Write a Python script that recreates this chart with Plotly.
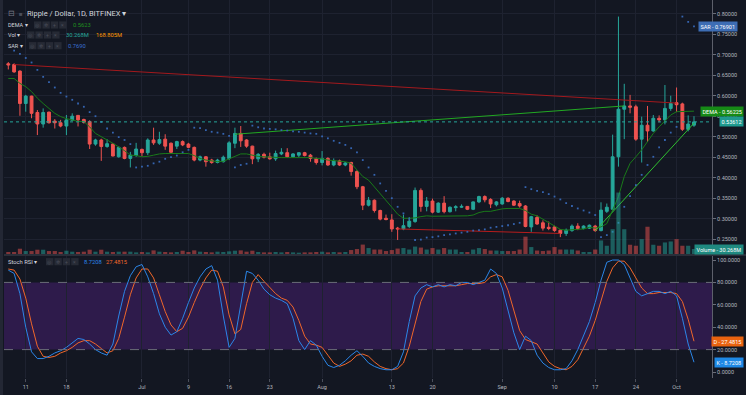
import pandas as pd
import plotly.graph_objects as go

# ---------------- DATA ----------------
START_DATE = "2018-06-08"

opens = [0.678, 0.676, 0.660, 0.581, 0.599, 0.559, 0.531, 0.560, 0.538, 0.534,
         0.526, 0.540, 0.552, 0.542, 0.537, 0.482, 0.492, 0.476, 0.482, 0.451,
         0.474, 0.447, 0.454, 0.469, 0.461, 0.492, 0.484, 0.494, 0.484, 0.477,
         0.488, 0.482, 0.474, 0.443, 0.451, 0.443, 0.437, 0.439, 0.447, 0.484,
         0.508, 0.492, 0.477, 0.446, 0.457, 0.451, 0.446, 0.458, 0.461, 0.451,
         0.455, 0.461, 0.455, 0.447, 0.437, 0.447, 0.431, 0.441, 0.431, 0.437,
         0.415, 0.378, 0.333, 0.345, 0.320, 0.301, 0.297, 0.277, 0.275, 0.281,
         0.293, 0.369, 0.330, 0.343, 0.316, 0.338, 0.317, 0.327, 0.328, 0.330,
         0.323, 0.341, 0.354, 0.347, 0.334, 0.336, 0.350, 0.343, 0.337, 0.331,
         0.280, 0.303, 0.290, 0.279, 0.280, 0.272, 0.264, 0.271, 0.282, 0.276,
         0.277, 0.282, 0.271, 0.318, 0.323, 0.451, 0.567, 0.575, 0.573, 0.494,
         0.528, 0.514, 0.545, 0.541, 0.569, 0.583, 0.580, 0.518, 0.528]
highs = [0.682, 0.679, 0.662, 0.602, 0.600, 0.565, 0.569, 0.561, 0.543, 0.541,
         0.553, 0.557, 0.553, 0.544, 0.540, 0.495, 0.495, 0.494, 0.484, 0.476,
         0.476, 0.463, 0.485, 0.471, 0.496, 0.522, 0.512, 0.506, 0.486, 0.490,
         0.491, 0.485, 0.476, 0.454, 0.453, 0.446, 0.446, 0.454, 0.489, 0.522,
         0.526, 0.494, 0.478, 0.460, 0.461, 0.461, 0.466, 0.472, 0.472, 0.460,
         0.462, 0.463, 0.458, 0.449, 0.465, 0.450, 0.447, 0.444, 0.438, 0.439,
         0.418, 0.380, 0.353, 0.347, 0.322, 0.310, 0.311, 0.280, 0.310, 0.304,
         0.376, 0.374, 0.353, 0.349, 0.340, 0.355, 0.330, 0.333, 0.335, 0.331,
         0.342, 0.356, 0.357, 0.350, 0.343, 0.353, 0.352, 0.345, 0.344, 0.333,
         0.307, 0.308, 0.296, 0.293, 0.283, 0.274, 0.276, 0.286, 0.289, 0.284,
         0.286, 0.285, 0.340, 0.337, 0.505, 0.793, 0.629, 0.602, 0.578, 0.549,
         0.575, 0.553, 0.552, 0.626, 0.600, 0.620, 0.583, 0.552, 0.550]
lows = [0.664, 0.656, 0.551, 0.561, 0.545, 0.504, 0.522, 0.532, 0.520, 0.523,
        0.504, 0.538, 0.525, 0.532, 0.470, 0.478, 0.441, 0.473, 0.452, 0.449,
        0.445, 0.425, 0.451, 0.452, 0.455, 0.480, 0.480, 0.468, 0.458, 0.470,
        0.477, 0.472, 0.440, 0.440, 0.427, 0.434, 0.435, 0.437, 0.443, 0.472,
        0.475, 0.473, 0.433, 0.438, 0.447, 0.444, 0.441, 0.455, 0.449, 0.448,
        0.450, 0.452, 0.439, 0.432, 0.430, 0.429, 0.428, 0.429, 0.428, 0.405,
        0.372, 0.321, 0.330, 0.315, 0.296, 0.296, 0.268, 0.248, 0.272, 0.277,
        0.290, 0.317, 0.318, 0.313, 0.314, 0.313, 0.315, 0.318, 0.326, 0.321,
        0.321, 0.338, 0.340, 0.326, 0.330, 0.334, 0.340, 0.331, 0.327, 0.279,
        0.268, 0.285, 0.271, 0.272, 0.268, 0.255, 0.258, 0.268, 0.272, 0.274,
        0.275, 0.268, 0.269, 0.314, 0.317, 0.427, 0.494, 0.557, 0.490, 0.437,
        0.487, 0.512, 0.535, 0.530, 0.563, 0.560, 0.514, 0.513, 0.524]
closes = [0.675, 0.658, 0.581, 0.599, 0.557, 0.531, 0.559, 0.534, 0.534, 0.526,
          0.541, 0.550, 0.541, 0.535, 0.482, 0.492, 0.476, 0.483, 0.453, 0.474,
          0.447, 0.455, 0.470, 0.461, 0.492, 0.485, 0.493, 0.477, 0.462, 0.488,
          0.480, 0.474, 0.443, 0.451, 0.439, 0.437, 0.443, 0.450, 0.485, 0.508,
          0.490, 0.477, 0.446, 0.457, 0.450, 0.446, 0.459, 0.462, 0.451, 0.458,
          0.461, 0.454, 0.447, 0.437, 0.447, 0.431, 0.441, 0.431, 0.436, 0.415,
          0.378, 0.333, 0.345, 0.320, 0.299, 0.298, 0.275, 0.275, 0.283, 0.294,
          0.369, 0.330, 0.343, 0.316, 0.338, 0.317, 0.328, 0.329, 0.330, 0.323,
          0.341, 0.354, 0.346, 0.336, 0.341, 0.350, 0.342, 0.333, 0.331, 0.281,
          0.305, 0.287, 0.277, 0.276, 0.271, 0.264, 0.272, 0.282, 0.276, 0.282,
          0.284, 0.271, 0.321, 0.328, 0.451, 0.567, 0.575, 0.572, 0.494, 0.528,
          0.514, 0.545, 0.541, 0.569, 0.581, 0.578, 0.518, 0.531, 0.53612]
volume_m = [12, 12, 32, 18, 18, 26, 26, 18, 18, 12,
            20, 14, 12, 14, 26, 14, 26, 14, 12, 14,
            14, 14, 10, 12, 10, 22, 14, 12, 10, 12,
            20, 12, 22, 14, 12, 10, 14, 12, 16, 20,
            22, 14, 20, 12, 10, 10, 12, 10, 12, 10,
            8, 10, 10, 12, 14, 10, 12, 10, 12, 24,
            30, 57, 36, 27, 27, 18, 24, 33, 36, 27,
            45, 39, 27, 36, 27, 36, 27, 27, 12, 12,
            27, 36, 30, 21, 21, 18, 18, 18, 27, 105,
            42, 21, 18, 21, 42, 27, 27, 27, 21, 12,
            12, 27, 82, 50, 150, 372, 150, 56, 50, 90,
            165, 56, 50, 70, 76, 90, 50, 50, 30.268]
volume_ma_m = 168.805
dema = [0.642, 0.642, 0.630, 0.622, 0.610, 0.594, 0.581, 0.569, 0.557, 0.549,
        0.544, 0.541, 0.537, 0.537, 0.524, 0.508, 0.499, 0.492, 0.484, 0.476,
        0.466, 0.455, 0.454, 0.451, 0.452, 0.455, 0.458, 0.459, 0.459, 0.459,
        0.459, 0.459, 0.454, 0.447, 0.443, 0.441, 0.439, 0.440, 0.446, 0.453,
        0.458, 0.458, 0.455, 0.452, 0.451, 0.450, 0.449, 0.449, 0.449, 0.449,
        0.449, 0.449, 0.449, 0.447, 0.446, 0.443, 0.442, 0.440, 0.439, 0.435,
        0.419, 0.403, 0.394, 0.378, 0.362, 0.346, 0.328, 0.311, 0.301, 0.301,
        0.302, 0.305, 0.307, 0.306, 0.306, 0.306, 0.306, 0.306, 0.306, 0.307,
        0.309, 0.315, 0.318, 0.318, 0.321, 0.324, 0.325, 0.325, 0.325, 0.320,
        0.311, 0.307, 0.299, 0.290, 0.282, 0.274, 0.272, 0.273, 0.274, 0.275,
        0.279, 0.277, 0.280, 0.288, 0.321, 0.354, 0.403, 0.435, 0.451, 0.468,
        0.488, 0.508, 0.524, 0.538, 0.553, 0.561, 0.561, 0.562, 0.56225]
sar = [None, 0.710, 0.702, 0.692, 0.681, 0.663, 0.646, 0.633, 0.620, 0.607,
       0.598, 0.590, 0.581, 0.573, 0.560, 0.550, 0.536, 0.520, 0.510, 0.499,
       0.492, 0.482, 0.425, 0.427, 0.429, 0.435, 0.439, 0.446, 0.450, 0.454,
       0.462, 0.468, 0.522, 0.521, 0.516, 0.512, 0.510, 0.507, 0.502, 0.425,
       0.431, 0.434, 0.527, 0.523, 0.520, 0.519, 0.518, 0.516, 0.515, 0.513,
       0.512, 0.510, 0.508, 0.507, 0.501, 0.496, 0.490, 0.485, 0.480, 0.472,
       0.462, 0.443, 0.425, 0.407, 0.386, 0.368, 0.350, 0.329, 0.313, 0.300,
       0.248, 0.249, 0.254, 0.255, 0.257, 0.260, 0.262, 0.264, 0.266, 0.268,
       0.271, 0.272, 0.274, 0.278, 0.280, 0.282, 0.284, 0.287, 0.290, 0.377,
       0.372, 0.368, 0.365, 0.360, 0.354, 0.347, 0.338, 0.331, 0.325, 0.320,
       0.315, 0.309, 0.255, 0.260, 0.268, 0.290, 0.329, 0.355, 0.382, 0.407,
       0.431, 0.451, 0.474, 0.492, 0.510, 0.524, 0.793, 0.780, 0.76901]
stoch_k = [91, 88, 70, 40, 18, 12, 12, 14, 17, 19,
           22, 26, 30, 29, 25, 20, 17, 15, 25, 50,
           72, 86, 94, 96, 85, 70, 52, 40, 33, 36,
           48, 62, 75, 85, 92, 95, 82, 50, 22, 30,
           62, 90, 88, 82, 74, 69, 66, 64, 61, 48,
           28, 20, 28, 24, 14, 6, 4, 6, 10, 15,
           19, 14, 8, 5, 3, 2, 2, 5, 18, 45,
           68, 75, 78, 76, 78, 76, 78, 77, 80, 80,
           78, 80, 82, 92, 88, 75, 55, 35, 20, 32,
           28, 15, 8, 4, 2, 2, 3, 10, 20, 32,
           45, 62, 82, 98, 100, 100, 96, 84, 72, 68,
           70, 72, 72, 70, 72, 68, 48, 25, 8.7208]
stoch_d = [92, 91, 83, 66, 43, 23, 14, 13, 14, 17,
           19, 22, 26, 28, 28, 25, 21, 17, 19, 30,
           49, 69, 84, 92, 92, 84, 69, 54, 42, 36,
           39, 49, 62, 74, 84, 91, 90, 76, 51, 34,
           38, 61, 80, 87, 81, 75, 70, 66, 64, 58,
           46, 32, 25, 24, 22, 15, 8, 5, 7, 10,
           15, 16, 14, 9, 5, 3, 2, 3, 8, 23,
           44, 63, 74, 76, 77, 77, 77, 77, 78, 79,
           79, 79, 80, 85, 87, 85, 73, 55, 37, 29,
           27, 25, 17, 9, 5, 3, 2, 5, 11, 21,
           32, 46, 63, 81, 93, 99, 99, 93, 84, 75,
           70, 70, 71, 71, 71, 70, 63, 47, 27.4815]

# user-drawn trend lines (date, price)
trend_red_top = (["2018-06-09", "2018-10-01"], [0.676, 0.582])
trend_red_bottom = (["2018-08-14", "2018-09-11"], [0.275, 0.264])
trend_green_long = (["2018-07-17", "2018-09-22"], [0.506, 0.575])
trend_green_rise = (["2018-09-17", "2018-10-04"], [0.270, 0.533])

stoch_band = (20, 80)
price_ticks = [0.25, 0.30, 0.35, 0.40, 0.45, 0.50, 0.55, 0.60, 0.65, 0.70, 0.75, 0.80]
stoch_ticks = [0, 20, 40, 60, 80, 100]
x_tick_dates = ["2018-06-11", "2018-06-18", "2018-07-01", "2018-07-09", "2018-07-16",
                "2018-07-23", "2018-08-01", "2018-08-13", "2018-08-20", "2018-09-01",
                "2018-09-10", "2018-09-17", "2018-09-24", "2018-10-01"]
x_tick_labels = ["11", "18", "Jul", "9", "16", "23", "Aug", "13", "20", "Sep",
                 "10", "17", "24", "Oct"]

title_text = "Ripple / Dollar, 1D, BITFINEX"

# ---------------- STYLE ----------------
W, H = 746, 395
ML, MR, MT, MB = 4, 34, 0, 17
PW, PH = W - ML - MR, H - MT - MB
BG = "#131722"
GRID = "#1e2230"
TXT = "#b2b5be"
UP, DOWN = "#26a69a", "#ef5350"
FONT = "Roboto, Liberation Sans, sans-serif"

dates = pd.date_range(START_DATE, periods=len(closes), freq="D")


def pp(px, py):
    """pixel -> paper coords"""
    return (px - ML) / PW, 1 - (py - MT) / PH


price_dom = [1 - 254 / PH, 1.0]
stoch_dom = [0.0, 1 - 256 / PH]

fig = go.Figure()

# volume (overlay axis)
vol_colors = ["rgba(38,166,154,0.5)" if c >= o else "rgba(239,83,80,0.5)"
              for o, c in zip(opens, closes)]
fig.add_trace(go.Bar(x=dates, y=volume_m, marker_color=vol_colors,
                     marker_line_width=0, width=0.72 * 86400000,
                     xaxis="x", yaxis="y3", showlegend=False, hoverinfo="skip"))

# trend lines
for (tx, ty), col in [(trend_red_top, "#a3191d"), (trend_red_bottom, "#b71c1c"),
                      (trend_green_long, "#22a822"), (trend_green_rise, "#2fbf2f")]:
    fig.add_trace(go.Scatter(x=tx, y=ty, mode="lines", line=dict(color=col, width=1),
                             xaxis="x", yaxis="y", showlegend=False, hoverinfo="skip"))

# DEMA
fig.add_trace(go.Scatter(x=dates, y=dema, mode="lines",
                         line=dict(color="#197a19", width=1),
                         xaxis="x", yaxis="y", showlegend=False, hoverinfo="skip"))

# candles
fig.add_trace(go.Candlestick(
    x=dates, open=opens, high=highs, low=lows, close=closes,
    increasing=dict(line=dict(color=UP, width=1), fillcolor=UP),
    decreasing=dict(line=dict(color=DOWN, width=1), fillcolor=DOWN),
    whiskerwidth=0, xaxis="x", yaxis="y", showlegend=False, hoverinfo="skip"))

# SAR
fig.add_trace(go.Scatter(x=dates, y=sar, mode="markers",
                         marker=dict(color="#3564b0", size=1.8, symbol="square"),
                         xaxis="x", yaxis="y", showlegend=False, hoverinfo="skip"))

# Stoch RSI
fig.add_trace(go.Scatter(x=dates, y=stoch_d, mode="lines",
                         line=dict(color="#f0672a", width=1),
                         xaxis="x", yaxis="y2", showlegend=False, hoverinfo="skip"))
fig.add_trace(go.Scatter(x=dates, y=stoch_k, mode="lines",
                         line=dict(color="#2b86e8", width=1),
                         xaxis="x", yaxis="y2", showlegend=False, hoverinfo="skip"))

shapes = []
# stoch band
shapes.append(dict(type="rect", xref="paper", yref="y2", x0=0, x1=1,
                   y0=stoch_band[0], y1=stoch_band[1],
                   fillcolor="rgba(126,40,200,0.25)", line_width=0, layer="below"))
for lvl in stoch_band:
    shapes.append(dict(type="line", xref="paper", yref="y2", x0=0, x1=1, y0=lvl, y1=lvl,
                       line=dict(color="#6a6d78", width=1, dash="dash")))
# last price line
shapes.append(dict(type="line", xref="paper", yref="y", x0=0, x1=1,
                   y0=closes[-1], y1=closes[-1],
                   line=dict(color="#26a69a", width=1, dash="dot")))
# pane separator
_, ysep = pp(0, 255)
shapes.append(dict(type="line", xref="paper", yref="paper", x0=0, x1=1.05,
                   y0=ysep, y1=ysep, line=dict(color="#2a2e39", width=2)))
# left frame strip
a0, _ = pp(0, 0)
a1, _ = pp(3, 0)
shapes.append(dict(type="rect", xref="paper", yref="paper", x0=a0, x1=a1,
                   y0=pp(0, H)[1], y1=1, fillcolor="#232734", line_width=0))

annotations = []


def txt(px, py, s, color="#d1d4dc", size=5.5, anchor="left"):
    x, y = pp(px, py)
    annotations.append(dict(xref="paper", yref="paper", x=x, y=y, text=s,
                            showarrow=False, xanchor=anchor, yanchor="middle",
                            font=dict(family=FONT, size=size, color=color)))


def buttons(px0, py):
    glyphs = ["◎", "✲", "+", "×"]
    for j, g in enumerate(glyphs):
        x0 = px0 + j * 8.4
        a, b = pp(x0, py - 3.6)
        c, d = pp(x0 + 7.4, py + 3.6)
        shapes.append(dict(type="rect", xref="paper", yref="paper", x0=a, x1=c,
                           y0=d, y1=b, fillcolor="#262a35", line_width=0))
        txt(x0 + 3.7, py, g, color="#4a4e5a", size=5, anchor="center")


# header legend
txt(6, 14, "⊟", color="#787b86", size=8)
txt(17, 14, "■", color="#4a4e5a", size=6)
txt(25, 14, title_text + " ▾", color="#d1d4dc", size=7.5)
txt(6, 25, "DEMA ▾", size=5.5)
buttons(34, 25)
txt(71, 25, f"{dema[-1]:.4f}", color="#1f8f1f", size=5.8)
txt(6, 35, "Vol ▾", size=5.5)
buttons(27, 35)
txt(64, 35, f"{volume_m[-1]:.3f}M", color="#26a69a", size=5.8)
txt(94, 35, f"{volume_ma_m:.3f}M", color="#ff9800", size=5.8)
txt(6, 45.7, "SAR ▾", size=5.5)
buttons(29, 45.7)
txt(66, 45.7, f"{sar[-1]:.4f}", color="#3a6fd0", size=5.8)
txt(6, 261.7, "Stoch RSI ▾", size=5.8)
buttons(46, 261.7)
txt(82, 261.7, f"{stoch_k[-1]:.4f}", color="#2b86e8", size=5.8)
txt(104, 261.7, f"{stoch_d[-1]:.4f}", color="#f0672a", size=5.8)


def tag(right_px, yref, yval, s, bg):
    x, _ = pp(right_px, 0)
    annotations.append(dict(xref="paper", yref=yref, x=x, y=yval, text=s,
                            showarrow=False, xanchor="right", yanchor="middle",
                            bgcolor=bg, borderpad=1.5,
                            font=dict(family=FONT, size=5.5, color="#ffffff")))


tag(738, "y", sar[-1], f"SAR - {sar[-1]:.5f}", "#3d6db4")
tag(744, "y", dema[-1], f"DEMA - {dema[-1]:.5f}", "#168a16")
tag(744, "y", closes[-1], f"{closes[-1]:.5f}", "#1f9a8f")
tag(744, "y3", volume_m[-1], f"Volume - {volume_m[-1]:.3f}M", "#1f8a80")
tag(744, "y2", stoch_d[-1], f"D - {stoch_d[-1]:.4f}", "#e8620f")
tag(744, "y2", stoch_k[-1], f"K - {stoch_k[-1]:.4f}", "#1e88e5")

x0 = dates[0] - pd.Timedelta(hours=17.8)
x1 = dates[-1] + pd.Timedelta(hours=74.4)

axis_font = dict(family=FONT, size=5.5, color=TXT)
fig.update_layout(
    width=W, height=H,
    margin=dict(l=ML, r=MR, t=MT, b=MB),
    paper_bgcolor=BG, plot_bgcolor=BG,
    showlegend=False,
    boxgap=0.3,
    bargap=0.2,
    xaxis=dict(domain=[0, 1], anchor="y2", range=[x0, x1], type="date",
               tickvals=x_tick_dates, ticktext=x_tick_labels,
               showgrid=True, gridcolor=GRID, gridwidth=1,
               ticks="outside", ticklen=3, tickcolor="#4a4e5a",
               tickfont=axis_font, showline=False, zeroline=False,
               rangeslider=dict(visible=False)),
    yaxis=dict(domain=price_dom, range=[0.2139, 0.8334], side="right",
               tickvals=price_ticks, tickformat=".5f",
               showgrid=True, gridcolor=GRID, gridwidth=1, zeroline=False,
               ticks="outside", ticklen=3, tickcolor="#6a6d78",
               showline=True, linecolor="#5d606b", linewidth=1,
               tickfont=axis_font),
    yaxis2=dict(domain=stoch_dom, range=[-5.36, 103.6], side="right",
                tickvals=stoch_ticks, tickformat=".4f",
                showgrid=False, zeroline=False,
                ticks="outside", ticklen=3, tickcolor="#6a6d78",
                showline=True, linecolor="#5d606b", linewidth=1,
                tickfont=axis_font),
    yaxis3=dict(overlaying="y", range=[0, 254 * 30.268 / 5.0], visible=False,
                showgrid=False, zeroline=False),
    shapes=shapes,
    annotations=annotations,
)

fig.write_html("out.html",
               config={"displayModeBar": False},
               post_script="document.body.style.margin='0';"
                           "document.body.style.overflow='hidden';"
                           "document.body.style.background='" + BG + "';")
